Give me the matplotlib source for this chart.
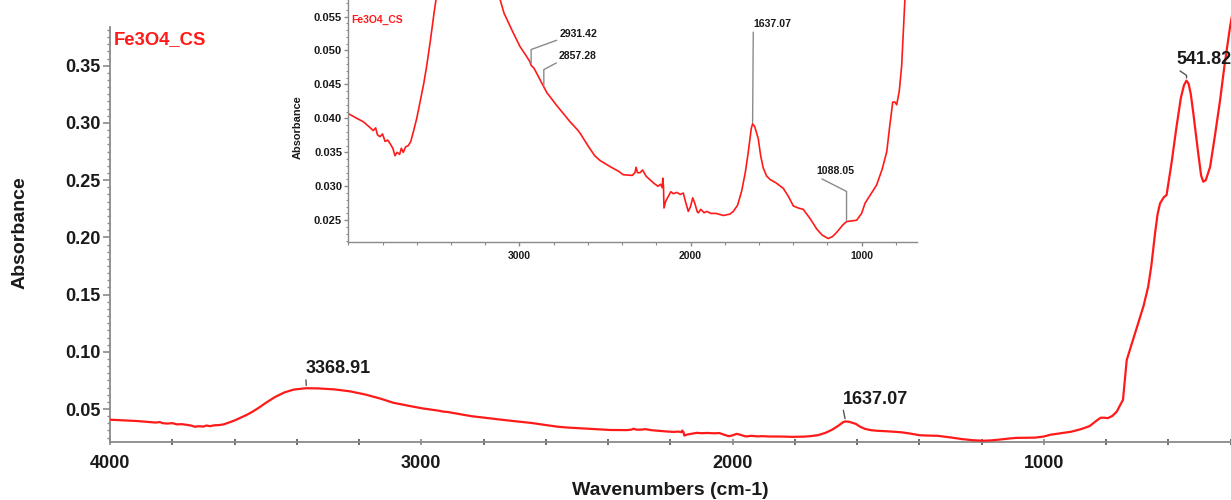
import matplotlib
matplotlib.use("Agg")
import matplotlib.pyplot as plt
import numpy as np
from matplotlib.ticker import MultipleLocator, FixedLocator

plt.rcParams['font.family'] = ['Liberation Sans', 'DejaVu Sans']
plt.rcParams['font.weight'] = 'bold'

# ---- spectrum ----
wavenumber = [4000, 3950, 3912, 3880, 3854, 3840, 3830, 3815, 3800, 3785, 3770, 3756, 3740, 3727,
              3715, 3700, 3690, 3679, 3665, 3649, 3635, 3620, 3600, 3581, 3560, 3542, 3520, 3499,
              3470, 3440, 3410, 3369, 3330, 3280, 3230, 3180, 3130, 3090, 3040, 2997, 2960, 2940,
              2931, 2915, 2890, 2857, 2840, 2782, 2740, 2704, 2660, 2645, 2600, 2560, 2529, 2470,
              2420, 2393, 2340, 2325, 2318, 2310, 2295, 2280, 2260, 2217, 2190, 2175, 2165, 2162,
              2158, 2155, 2145, 2130, 2115, 2100, 2080, 2060, 2042, 2030, 2013, 2000, 1987, 1975,
              1960, 1954, 1940, 1920, 1905, 1880, 1850, 1808, 1770, 1750, 1725, 1701, 1680, 1662,
              1645, 1637, 1625, 1604, 1590, 1575, 1555, 1535, 1500, 1458, 1430, 1399, 1370, 1341,
              1300, 1262, 1230, 1195, 1170, 1146, 1110, 1088, 1060, 1029, 1000, 980, 950, 912,
              880, 853, 835, 818, 805, 795, 780, 766, 756, 746, 734, 720, 697, 680, 665, 655,
              643, 635, 627, 615, 606, 590, 574, 560, 550, 542, 535, 528, 520, 505, 495, 488,
              480, 466, 450, 434, 420, 402, 395]
absorbance = [0.0407, 0.0400, 0.0395, 0.0388, 0.0382, 0.0386, 0.0376, 0.0373, 0.0377, 0.0366,
              0.0368, 0.0363, 0.0356, 0.0345, 0.0350, 0.0347, 0.0356, 0.0350, 0.0358, 0.0360,
              0.0366, 0.0380, 0.0400, 0.0424, 0.0450, 0.0477, 0.0515, 0.0555, 0.0605, 0.0645,
              0.0670, 0.0682, 0.0680, 0.0672, 0.0655, 0.0627, 0.0590, 0.0555, 0.0528, 0.0506,
              0.0492, 0.0484, 0.0478, 0.0474, 0.0462, 0.0446, 0.0438, 0.0419, 0.0406, 0.0395,
              0.0383, 0.0378, 0.0360, 0.0345, 0.0338, 0.0329, 0.0322, 0.0317, 0.0316, 0.0320,
              0.0328, 0.0320, 0.0320, 0.0324, 0.0315, 0.0305, 0.0300, 0.0303, 0.0298, 0.0312,
              0.0300, 0.0268, 0.0278, 0.0285, 0.0292, 0.0289, 0.0291, 0.0288, 0.0290, 0.0278,
              0.0263, 0.0270, 0.0283, 0.0275, 0.0262, 0.0261, 0.0266, 0.0261, 0.0263, 0.0260,
              0.0260, 0.0257, 0.0259, 0.0263, 0.0272, 0.0293, 0.0320, 0.0351, 0.0385, 0.0392,
              0.0388, 0.0370, 0.0345, 0.0327, 0.0315, 0.0310, 0.0305, 0.0297, 0.0286, 0.0271,
              0.0268, 0.0266, 0.0252, 0.0237, 0.0228, 0.0223, 0.0226, 0.0232, 0.0243, 0.0248,
              0.0249, 0.0250, 0.0260, 0.0275, 0.0287, 0.0302, 0.0325, 0.0351, 0.0390, 0.0424,
              0.0424, 0.0420, 0.0440, 0.0477, 0.0530, 0.0580, 0.0928, 0.1050, 0.1249, 0.1400,
              0.1569, 0.1750, 0.2035, 0.2200, 0.2297, 0.2350, 0.2370, 0.2650, 0.2967, 0.3220,
              0.3330, 0.3370, 0.3340, 0.3250, 0.3084, 0.2750, 0.2540, 0.2486, 0.2500, 0.2617,
              0.2900, 0.3200, 0.3500, 0.3840, 0.3950]

sample_name = "Fe3O4_CS"
main_peaks = [3368.91, 1637.07, 541.82]
inset_peaks = [2931.42, 2857.28, 1637.07, 1088.05]

RED = "#ff1a1a"
GRAY = "#8a8a8a"

W, H = 1231, 500
fig = plt.figure(figsize=(W / 100, H / 100), dpi=100)

# ---------------- main axes ----------------
Y_TOP_SPINE = 0.384
ax = fig.add_axes([110 / W, 58 / H, 1121 / W, 442 / H])
ax.plot(wavenumber, absorbance, color=RED, lw=1.6, zorder=3)
ax.set_xlim(4000, 399)
ax.set_ylim(0.0212, 0.4074)
for s in ("top", "right"):
    ax.spines[s].set_visible(False)
for s in ("left", "bottom"):
    ax.spines[s].set_color(GRAY)
    ax.spines[s].set_linewidth(1.3)
ax.spines["left"].set_bounds(0.0212, Y_TOP_SPINE)

ax.xaxis.set_minor_locator(MultipleLocator(200))
minor_y = [t for t in np.arange(0.025, Y_TOP_SPINE, 0.05 / 8)]
ax.yaxis.set_minor_locator(FixedLocator(minor_y))
ax.set_yticks([0.05, 0.10, 0.15, 0.20, 0.25, 0.30, 0.35])
ax.set_yticklabels(["0.05", "0.10", "0.15", "0.20", "0.25", "0.30", "0.35"])
ax.set_xticks([4000, 3000, 2000, 1000])
ax.set_xticklabels(["4000", "3000", "2000", "1000"])
ax.tick_params(axis="x", which="major", direction="inout", length=5, width=1.2,
               color=GRAY, labelsize=13, pad=7)
ax.tick_params(axis="x", which="minor", direction="inout", length=4, width=1.2, color="#555555")
ax.tick_params(axis="y", which="major", direction="out", length=5, width=1.2,
               color=GRAY, labelsize=13, pad=2)
ax.tick_params(axis="y", which="minor", direction="out", length=2.5, width=1.0, color=GRAY)
for lab in ax.get_xticklabels() + ax.get_yticklabels():
    lab.set_fontweight("bold")
    lab.set_color("#1a1a1a")

ax.set_xlabel("Wavenumbers (cm-1)", fontsize=14, fontweight="bold", color="#1a1a1a")
ax.xaxis.label.set_va("center")
ax.xaxis.set_label_coords(0.5, -0.1086)
ax.set_ylabel("Absorbance", fontsize=14, fontweight="bold", color="#1a1a1a")
ax.yaxis.label.set_va("center")
ax.yaxis.set_label_coords(-0.0803, 0.473)

ax.text(0.0036, 0.9095, sample_name, transform=ax.transAxes, color=RED,
        fontsize=13.3, fontweight="bold", va="center", ha="left")

wn_sorted = np.array(wavenumber[::-1], dtype=float)
ab_sorted = np.array(absorbance[::-1], dtype=float)


def yval(w):
    return float(np.interp(w, wn_sorted, ab_sorted))


STRAIGHT = "arc3,rad=0"
main_offsets = {3368.91: ((-0.5, 8), STRAIGHT),
                1637.07: ((-2, 10), STRAIGHT),
                541.82: ((-7.5, 9), "angle,angleA=-35,angleB=90,rad=0")}
for pk in main_peaks:
    off, cs = main_offsets[pk]
    ax.annotate(f"{pk:.2f}", xy=(pk, yval(pk)), xytext=off, textcoords="offset points",
                ha="left", va="bottom", fontsize=13, fontweight="bold", color="#1a1a1a",
                annotation_clip=False, zorder=4,
                arrowprops=dict(arrowstyle="-", color="#555555", lw=1.0, shrinkA=0, shrinkB=2,
                                relpos=(0.0, 0.0), connectionstyle=cs))

# ---------------- inset ----------------
ins = fig.add_axes([348.3 / W, (H - 242.3) / H, 568.4 / W, 242.3 / H])
ins.set_facecolor("white")
ins.plot(wavenumber, absorbance, color=RED, lw=1.2)
ins.set_xlim(4000, 678)
ins.set_ylim(0.02175, 0.05743)
for s in ("top", "right"):
    ins.spines[s].set_visible(False)
for s in ("left", "bottom"):
    ins.spines[s].set_color(GRAY)
    ins.spines[s].set_linewidth(1.0)
ins.set_xticks([3000, 2000, 1000])
ins.set_xticklabels(["3000", "2000", "1000"])
ins.xaxis.set_minor_locator(MultipleLocator(200))
ins.set_yticks([0.025, 0.030, 0.035, 0.040, 0.045, 0.050, 0.055])
ins.set_yticklabels(["0.025", "0.030", "0.035", "0.040", "0.045", "0.050", "0.055"])
ins.yaxis.set_minor_locator(MultipleLocator(0.001))
ins.tick_params(axis="x", which="major", direction="out", length=3, width=1.0,
                color=GRAY, labelsize=7.5, pad=3)
ins.tick_params(axis="x", which="minor", direction="out", length=2, width=0.8, color=GRAY)
ins.tick_params(axis="y", which="major", direction="out", length=3, width=1.0,
                color=GRAY, labelsize=8, pad=1.5)
ins.tick_params(axis="y", which="minor", direction="out", length=1.5, width=0.8, color=GRAY)
for lab in ins.get_xticklabels() + ins.get_yticklabels():
    lab.set_fontweight("bold")
    lab.set_color("#1a1a1a")
ins.set_ylabel("Absorbance", fontsize=7.9, fontweight="bold", color="#1a1a1a")
ins.yaxis.label.set_va("center")
ins.yaxis.set_label_coords(-0.0885, 0.477)
ins.text(0.005, 0.917, sample_name, transform=ins.transAxes, color=RED,
         fontsize=7.5, fontweight="bold", va="center", ha="left")

inset_offsets = {2931.42: ((20.4, 18.7), "angle,angleA=20,angleB=90,rad=0"),
                 2857.28: ((11.0, 18.4), "angle,angleA=28,angleB=90,rad=0"),
                 1637.07: ((0.5, 68.0), STRAIGHT),
                 1088.05: ((-21.6, 32.7), "angle,angleA=-27,angleB=90,rad=0")}
for pk in inset_peaks:
    off, cs = inset_offsets[pk]
    ins.annotate(f"{pk:.2f}", xy=(pk, yval(pk)), xytext=off, textcoords="offset points",
                 ha="left", va="bottom", fontsize=7.6, fontweight="bold", color="#1a1a1a",
                 annotation_clip=False,
                 arrowprops=dict(arrowstyle="-", color=GRAY, lw=1.0, shrinkA=0, shrinkB=1,
                                 relpos=(0.0, 0.0), connectionstyle=cs))

fig.savefig("out.png", dpi=100, facecolor="white")
